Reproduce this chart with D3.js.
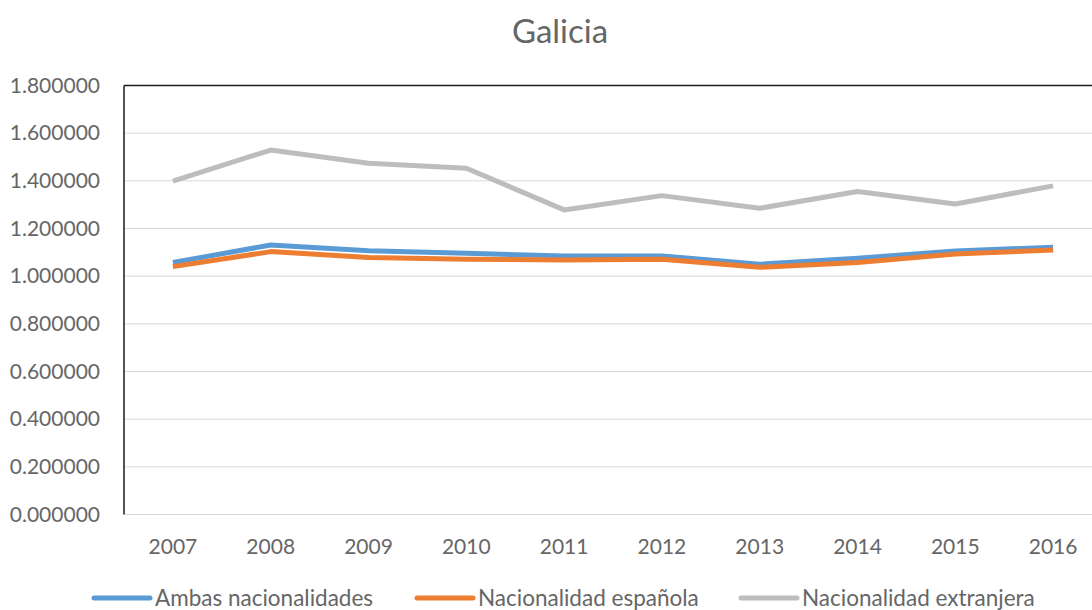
<!DOCTYPE html>
<html><head><meta charset="utf-8">
<script src="https://cdn.jsdelivr.net/npm/d3@7"></script>
<style>body{margin:0;background:#fff;}svg{display:block;font-family:Lato,sans-serif;}</style>
</head><body>
<svg id="c" width="1092" height="610"></svg>
<script>
const years = ["2007","2008","2009","2010","2011","2012","2013","2014","2015","2016"];
const ambas = [1.057,1.131,1.107,1.096,1.085,1.085,1.050,1.075,1.106,1.121];
const espanola = [1.040,1.103,1.078,1.071,1.068,1.071,1.037,1.057,1.093,1.110];
const extranjera = [1.399,1.529,1.474,1.453,1.278,1.338,1.285,1.355,1.303,1.379];
const yTicks = [0,0.2,0.4,0.6,0.8,1.0,1.2,1.4,1.6,1.8];
const seriesNames = ["Ambas nacionalidades","Nacionalidad española","Nacionalidad extranjera"];
const colors = ["#5B9BD5","#ED7D31","#BDBDBD"];
const textColor = "#666666";

const svg = d3.select("#c");
const mLeft = 124, mRight = 1102, mTop = 85.5, mBottom = 514.5;
const x = d3.scaleBand().domain(years).range([mLeft, mRight]);
const y = d3.scaleLinear().domain([0,1.8]).range([mBottom, mTop]);

// title
svg.append("text").attr("x",560).attr("y",43).attr("text-anchor","middle")
  .attr("font-size",33).attr("fill",textColor).text("Galicia");

// gridlines
svg.append("g").selectAll("line").data(yTicks.slice(0,-1)).join("line")
  .attr("x1",mLeft).attr("x2",1092).attr("y1",d=>y(d)).attr("y2",d=>y(d))
  .attr("stroke","#D9D9D9").attr("stroke-width",1);

// frame: top and left
svg.append("line").attr("x1",mLeft).attr("x2",1092).attr("y1",mTop).attr("y2",mTop).attr("stroke","#1a1a1a").attr("stroke-width",1.5);
svg.append("line").attr("x1",mLeft).attr("x2",mLeft).attr("y1",mTop).attr("y2",mBottom).attr("stroke","#1a1a1a").attr("stroke-width",1.5);

// y axis labels
const yAxis = d3.axisLeft(y).tickValues(yTicks).tickFormat(d=>d.toFixed(6)).tickSize(0).tickPadding(24);
const ga = svg.append("g").attr("transform",`translate(${mLeft},0)`).call(yAxis);
ga.select(".domain").remove();
ga.selectAll("text").attr("font-size",21).attr("fill",textColor).attr("font-family","Lato,sans-serif");

// x axis labels
const xAxis = d3.axisBottom(x).tickSize(0).tickPadding(25);
const gx = svg.append("g").attr("transform",`translate(0,${mBottom})`).call(xAxis);
gx.select(".domain").remove();
gx.selectAll("text").attr("font-size",21).attr("fill",textColor).attr("font-family","Lato,sans-serif");

// lines
const line = d3.line().x((d,i)=>x(years[i])+x.bandwidth()/2).y(d=>y(d));
[extranjera, ambas, espanola].forEach((s,k)=>{
  const ci = [2,0,1][k];
  svg.append("path").attr("d",line(s)).attr("fill","none").attr("stroke",colors[ci])
    .attr("stroke-width",5).attr("stroke-linejoin","round").attr("stroke-linecap","butt");
});

// legend
const legX = [94,417,741];
seriesNames.forEach((n,i)=>{
  svg.append("line").attr("x1",legX[i]).attr("x2",legX[i]+56).attr("y1",598).attr("y2",598)
    .attr("stroke",colors[i]).attr("stroke-width",5).attr("stroke-linecap","round");
  svg.append("text").attr("x",legX[i]+61).attr("y",606).attr("font-size",22.5).attr("fill",textColor).text(n);
});
</script>
</body></html>
